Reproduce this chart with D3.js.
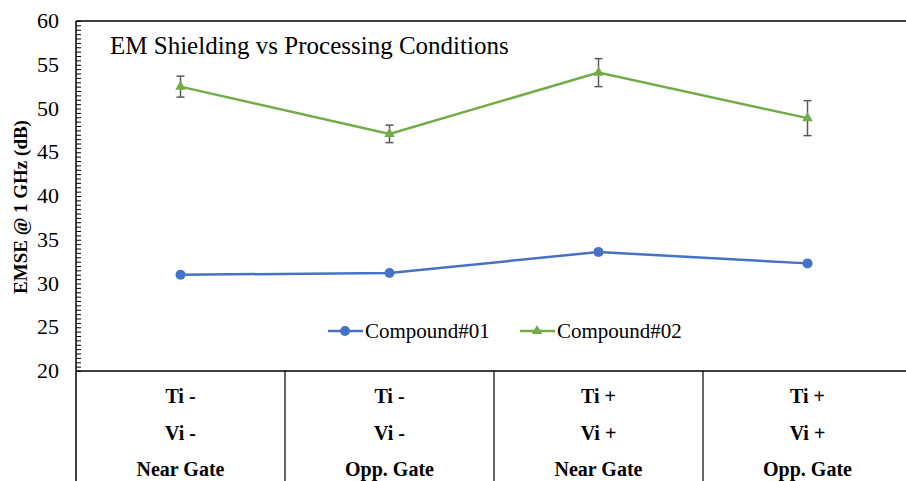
<!DOCTYPE html>
<html>
<head>
<meta charset="utf-8">
<script src="https://cdn.jsdelivr.net/npm/d3@7"></script>
<style>
  body { margin: 0; background: #fff; }
</style>
</head>
<body>
<svg id="chart" width="906" height="481"></svg>
<script>
// data
const categories = ['c1', 'c2', 'c3', 'c4'];
const rowTi = ['Ti -', 'Ti -', 'Ti +', 'Ti +'];
const rowVi = ['Vi -', 'Vi -', 'Vi +', 'Vi +'];
const rowGate = ['Near Gate', 'Opp. Gate', 'Near Gate', 'Opp. Gate'];
const compound01 = [31.0, 31.2, 33.6, 32.3];
const compound01Err = [0.1, 0.1, 0.3, 0.1];
const compound02 = [52.5, 47.1, 54.1, 48.9];
const compound02Err = [1.2, 1.0, 1.6, 2.0];
const yTicks = [20, 25, 30, 35, 40, 45, 50, 55, 60];

const series = [
    { name: 'Compound#01', values: compound01, err: compound01Err, colour: '#4472C4', marker: 'circle' },
    { name: 'Compound#02', values: compound02, err: compound02Err, colour: '#70AD47', marker: 'triangle' }
];

const fontName = 'Liberation Serif';
const svg = d3.select('#chart');
const plotLeft = 76, plotRight = 912, plotTop = 21, plotBottom = 371;

const x = d3.scaleBand().domain(categories).range([plotLeft, plotRight]);
const y = d3.scaleLinear().domain([20, 60]).range([plotBottom, plotTop]);

// y axis with inward ticks (major every 5, minor every 0.5)
const minor = d3.range(20, 60.01, 0.5);
svg.append('g')
    .attr('transform', `translate(${plotLeft},0)`)
    .call(d3.axisRight(y).tickValues(minor).tickSize(5).tickFormat(''))
    .call(g => g.select('.domain').remove())
    .selectAll('line').attr('stroke', '#000').attr('stroke-width', 1);

svg.append('line')
    .attr('x1', plotLeft).attr('x2', plotLeft).attr('y1', plotTop).attr('y2', 481)
    .attr('stroke', '#000').attr('stroke-width', 1.5);
svg.append('line')
    .attr('x1', plotLeft).attr('x2', 906).attr('y1', plotTop).attr('y2', plotTop)
    .attr('stroke', '#000').attr('stroke-width', 1.5);
svg.append('line')
    .attr('x1', plotLeft).attr('x2', 906).attr('y1', plotBottom).attr('y2', plotBottom)
    .attr('stroke', '#000').attr('stroke-width', 1.5);

svg.append('g').selectAll('text').data(yTicks).join('text')
    .attr('x', 59).attr('y', d => y(d) + 7)
    .attr('text-anchor', 'end')
    .style('font-family', fontName)
    .style('font-size', '22px')
    .text(d => d);

svg.append('text')
    .attr('transform', `translate(27,207) rotate(-90)`)
    .attr('text-anchor', 'middle')
    .style('font-family', fontName)
    .style('font-size', '19px').style('font-weight', 'bold')
    .text('EMSE @ 1 GHz (dB)');

svg.append('text')
    .attr('x', 110).attr('y', 54)
    .style('font-family', fontName)
    .style('font-size', '25px')
    .text('EM Shielding  vs Processing Conditions');

// category table below the axis
svg.append('g').selectAll('line').data(categories.slice(1)).join('line')
    .attr('x1', d => x(d)).attr('x2', d => x(d))
    .attr('y1', plotBottom).attr('y2', 481)
    .attr('stroke', '#000').attr('stroke-width', 1.2);

const rows = [rowTi, rowVi, rowGate];
const rowY = [403, 440, 476];
rows.forEach((row, ri) => {
    svg.append('g').selectAll('text').data(row).join('text')
        .attr('x', (d, i) => x(categories[i]) + x.bandwidth() / 2)
        .attr('y', rowY[ri])
        .attr('text-anchor', 'middle')
        .style('font-family', fontName)
        .style('font-size', '20px').style('font-weight', 'bold')
        .text(d => d);
});

const cx = (d, i) => x(categories[i]) + x.bandwidth() / 2;
const line = d3.line().x(cx).y(d => y(d));
const tri = d3.symbol().type(d3.symbolTriangle).size(48);

series.forEach(s => {
    svg.append('path')
        .datum(s.values)
        .attr('fill', 'none')
        .attr('stroke', s.colour)
        .attr('stroke-width', 2.5)
        .attr('d', line);

    // error bars
    const eb = svg.append('g').attr('stroke', '#595959').attr('stroke-width', 1.5);
    s.values.forEach((v, i) => {
        if (s.err[i] < 0.2) return;
        const px = cx(v, i);
        eb.append('line').attr('x1', px).attr('x2', px)
            .attr('y1', y(v + s.err[i])).attr('y2', y(v - s.err[i]));
        [v + s.err[i], v - s.err[i]].forEach(e => {
            eb.append('line').attr('x1', px - 4).attr('x2', px + 4)
                .attr('y1', y(e)).attr('y2', y(e));
        });
    });

    const g = svg.append('g');
    if (s.marker === 'circle') {
        g.selectAll('circle').data(s.values).join('circle')
            .attr('cx', cx).attr('cy', d => y(d)).attr('r', 5)
            .attr('fill', s.colour);
    } else {
        g.selectAll('path').data(s.values).join('path')
            .attr('d', tri)
            .attr('transform', (d, i) => `translate(${cx(d, i)},${y(d)})`)
            .attr('fill', s.colour);
    }
});

// legend
const legendX = [328, 520];
series.forEach((s, i) => {
    const lx = legendX[i], ly = 331;
    svg.append('line')
        .attr('x1', lx).attr('x2', lx + 35).attr('y1', ly).attr('y2', ly)
        .attr('stroke', s.colour).attr('stroke-width', 2.5);
    if (s.marker === 'circle') {
        svg.append('circle').attr('cx', lx + 17).attr('cy', ly).attr('r', 5).attr('fill', s.colour);
    } else {
        svg.append('path').attr('d', tri).attr('transform', `translate(${lx + 17},${ly})`).attr('fill', s.colour);
    }
    svg.append('text')
        .attr('x', lx + 37).attr('y', ly + 7)
        .style('font-family', fontName)
        .style('font-size', '21px')
        .text(s.name);
});
</script>
</body>
</html>
